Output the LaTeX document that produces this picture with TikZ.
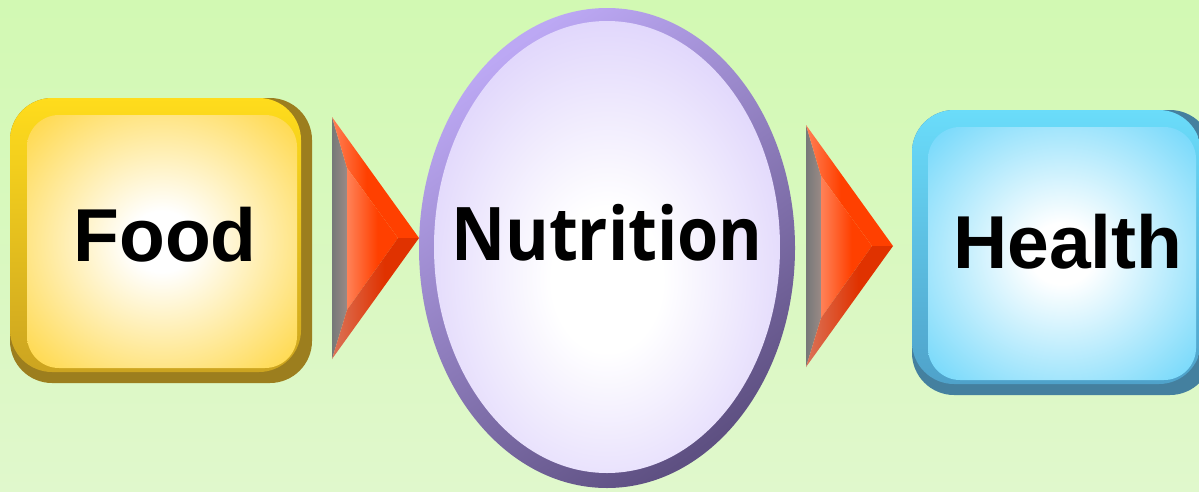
\documentclass[tikz,border=0pt]{standalone}
\usepackage{graphicx}
\usepackage{fontspec}
\setmainfont{Liberation Sans}
\newfontfamily\nutfont{Open Sans}
\definecolor{bgtop}{HTML}{D2F9B3}
\definecolor{bgbot}{HTML}{E0F8CC}
\definecolor{foodtop}{HTML}{FFDC1C}
\definecolor{foodleftB}{HTML}{CCA420}
\definecolor{foodright}{HTML}{9C7E1E}
\definecolor{foodface}{HTML}{FFD640}
\definecolor{healtop}{HTML}{6ADCFA}
\definecolor{healleftB}{HTML}{4FA2CA}
\definecolor{healright}{HTML}{44809F}
\definecolor{healface}{HTML}{6CD6FA}
\definecolor{nutlight}{HTML}{BCA8F4}
\definecolor{nutdark}{HTML}{5E5082}
\definecolor{nutface}{HTML}{C2AEF8}
\definecolor{arrA}{HTML}{FFB8A0}
\definecolor{arrB}{HTML}{FF4000}
\definecolor{arrC}{HTML}{D6AAA2}
\definecolor{arrD}{HTML}{E03200}
\definecolor{arrE}{HTML}{FFD0C0}
\definecolor{stripA}{HTML}{767878}
\definecolor{stripB}{HTML}{9A8A86}
\pgfdeclareradialshading{foodrad}{\pgfpoint{0bp}{0bp}}{color(0bp)=(white); color(6bp)=(white); color(36bp)=(foodface); color(72bp)=(foodface)}
\pgfdeclareradialshading{healrad}{\pgfpoint{0bp}{0bp}}{color(0bp)=(white); color(6bp)=(white); color(36bp)=(healface); color(72bp)=(healface)}
\pgfdeclareradialshading{nutrad}{\pgfpoint{0bp}{-4bp}}{color(0bp)=(white); color(8bp)=(white); color(48bp)=(nutface); color(80bp)=(nutface)}
\pgfdeclarehorizontalshading{chevface}{100bp}{color(0bp)=(arrA); color(55bp)=(arrB); color(100bp)=(arrB)}
\pgfdeclarehorizontalshading{chevup}{100bp}{color(0bp)=(arrE); color(45bp)=(arrB); color(100bp)=(arrB)}
\pgfdeclarehorizontalshading{chevlow}{100bp}{color(0bp)=(arrC); color(55bp)=(arrD); color(100bp)=(arrD)}
% rounded rectangle path: x1,y1 (top-left), x2,y2 (bottom-right), radius
\newcommand{\rrpath}[5]{%
  ({#1+#5},#2) -- ({#3-#5},#2)
  .. controls ({#3-0.45*#5},#2) and (#3,{#2+0.45*#5}) .. (#3,{#2+#5})
  -- (#3,{#4-#5})
  .. controls (#3,{#4-0.45*#5}) and ({#3-0.45*#5},#4) .. ({#3-#5},#4)
  -- ({#1+#5},#4)
  .. controls ({#1+0.45*#5},#4) and (#1,{#4-0.45*#5}) .. (#1,{#4-#5})
  -- (#1,{#2+#5})
  .. controls (#1,{#2+0.45*#5}) and ({#1+0.45*#5},#2) .. ({#1+#5},#2) -- cycle}
\tikzset{
  labeltext/.style={font=\fontsize{75}{80}\selectfont\bfseries, text=black, inner sep=0pt, anchor=base},
  nuttext/.style={font=\nutfont\fontsize{74}{80}\selectfont\bfseries, text=black, inner sep=0pt, anchor=base},
  chevron/.pic={
    \shade[left color=stripA, right color=stripB] (0,-121)--(15,-70)--(15,72)--(0,121)--cycle;
    \shade[shading=chevup] (0,-121)--(87,0)--(66,0)--(15,-70)--cycle;
    \shade[shading=chevface] (15,-70)--(66,0)--(15,72)--cycle;
    \shade[shading=chevlow] (15,72)--(66,0)--(87,0)--(0,121)--cycle;
  }
}
\begin{document}
\begin{tikzpicture}[x=1pt,y=-1pt]
\useasboundingbox (0,0) rectangle (1199,491);
\shade[top color=bgtop, bottom color=bgbot] (0,0) rectangle (1199,491);
% Food box
\fill[foodright] \rrpath{10}{98}{312}{383}{42};
\shade[top color=foodtop, bottom color=foodleftB] \rrpath{10}{98}{301}{372}{42};
\shade[shading=foodrad] \rrpath{27}{115}{297}{368}{32};
\node[labeltext] (food) at (165,261) {Food};
% Health box
\fill[healright] \rrpath{912}{110}{1212}{395}{42};
\shade[top color=healtop, bottom color=healleftB] \rrpath{912}{110}{1201}{384}{42};
\shade[shading=healrad] \rrpath{928}{127}{1196}{380}{32};
\node[labeltext] (health) at (1068,268) {Health};
% Nutrition ellipse
\shade[top color=nutlight, bottom color=nutdark, shading angle=35] (607,248) ellipse [x radius=188, y radius=240];
\shade[shading=nutrad] (607,247) ellipse [x radius=173, y radius=226];
\node[nuttext] (nut) at (607,260) {\scalebox{0.9}[1]{Nutrition}};
% arrows
\pic (arrowone) at (332,238) {chevron};
\pic (arrowtwo) at (806,246) {chevron};
\end{tikzpicture}
\end{document}
